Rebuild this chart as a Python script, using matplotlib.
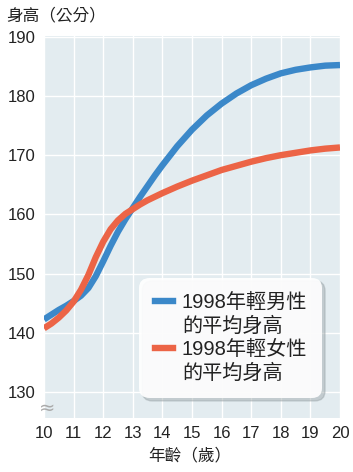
import matplotlib
matplotlib.use('Agg')
import matplotlib.pyplot as plt
from matplotlib.lines import Line2D

plt.rcParams['font.family'] = ['Liberation Sans', 'Noto Sans CJK TC', 'DejaVu Sans']

# 年齡 (歲)
ages_boy = [10, 10.25, 10.5, 10.75, 11, 11.25, 11.5, 11.75, 12, 12.25, 12.5,
            12.75, 13, 13.25, 13.5, 13.75, 14, 14.5, 15, 15.5, 16, 16.5, 17,
            17.5, 18, 18.5, 19, 19.5, 20]
height_boy = [142.3, 143.1, 143.9, 144.6, 145.4, 146.3, 147.6, 149.6, 152.1,
              154.7, 157.1, 159.2, 161.1, 163.0, 164.8, 166.6, 168.3, 171.5,
              174.3, 176.7, 178.7, 180.4, 181.8, 182.9, 183.8, 184.4, 184.8,
              185.1, 185.2]

ages_girl = [10, 10.25, 10.5, 10.75, 11, 11.25, 11.5, 11.75, 12, 12.25, 12.5,
             12.75, 13, 13.25, 13.5, 13.75, 14, 14.5, 15, 15.5, 16, 16.5, 17,
             17.5, 18, 18.5, 19, 19.5, 20]
height_girl = [140.8, 141.6, 142.6, 143.8, 145.3, 147.3, 149.8, 152.8, 155.4,
               157.5, 159.0, 160.1, 160.9, 161.7, 162.4, 163.0, 163.6, 164.7,
               165.7, 166.6, 167.5, 168.2, 168.9, 169.5, 170.0, 170.4, 170.8,
               171.1, 171.3]

x_ticks = list(range(10, 21))
y_ticks = [130, 140, 150, 160, 170, 180, 190]

label_boy = ['1998年輕男性', '的平均身高']
label_girl = ['1998年輕女性', '的平均身高']

BLUE = '#3b88c9'
RED = '#ec6446'

fig = plt.figure(figsize=(3.53, 4.72), dpi=100)
ax = fig.add_axes([44 / 353, 1 - 418 / 472, 296 / 353, 382 / 472])
ax.set_facecolor('#e3ecf0')

ax.plot(ages_boy, height_boy, color=BLUE, lw=4.6, solid_capstyle='butt',
        solid_joinstyle='round', zorder=3)
ax.plot(ages_girl, height_girl, color=RED, lw=4.6, solid_capstyle='butt',
        solid_joinstyle='round', zorder=3)

ax.set_xlim(10, 20)
ax.set_ylim(125.67, 190.1)
ax.set_xticks(x_ticks)
ax.set_yticks(y_ticks)
ax.grid(True, color='white', lw=1.0)
ax.set_axisbelow(True)
for s in ax.spines.values():
    s.set_visible(False)
ax.tick_params(length=0, labelsize=12, colors='#222222', pad=6)

# 斷軸記號
ax.text(10.12, 127.3, '≈', color='#aaaaaa', fontsize=14, ha='center', va='center',
        family=['DejaVu Sans'])

fig.text(6 / 353, 1 - 15 / 472, '身高（公分）', fontsize=12, color='#222222',
         ha='left', va='center')
fig.text(190 / 353, 1 - 455 / 472, '年齡（歲）', fontsize=12, color='#222222',
         ha='center', va='center')

blank = Line2D([], [], color='none')
handles = [Line2D([], [], color=BLUE, lw=4.6), blank,
           Line2D([], [], color=RED, lw=4.6), blank]
labels = [label_boy[0], label_boy[1], label_girl[0], label_girl[1]]
leg = ax.legend(handles, labels, loc='lower right', bbox_to_anchor=(0.94, 0.052),
                borderaxespad=0, fontsize=14.5, handlelength=0.9, handletextpad=0.45,
                labelspacing=0.22, borderpad=0.75, fancybox=True, framealpha=0.92,
                edgecolor='none', facecolor='white',
                shadow={'color': '#9aa4a8', 'alpha': 0.45})
leg.get_frame().set_boxstyle('round', pad=0, rounding_size=0.5)
for t in leg.get_texts():
    t.set_color('#222222')

fig.savefig('out.png', dpi=100)
